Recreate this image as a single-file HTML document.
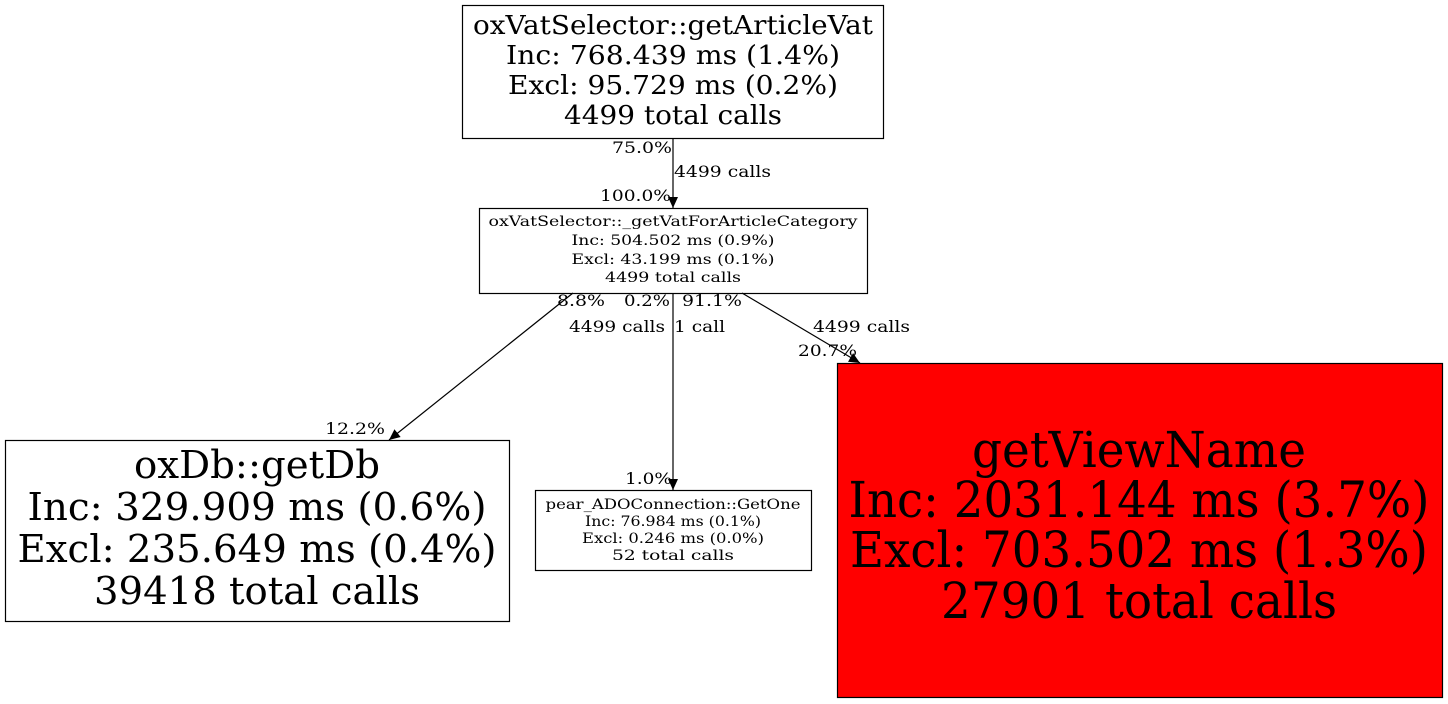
<!DOCTYPE html>
<html><head><meta charset="utf-8"><style>
html,body{margin:0;padding:0;background:#fff;}
svg{display:block;}
text{font-family:"DejaVu Serif","Liberation Serif",serif;fill:#000;}
</style></head><body>
<svg width="1448" height="704" viewBox="0 0 1448 704" xmlns="http://www.w3.org/2000/svg">
<defs><marker id="a" markerWidth="12" markerHeight="12" refX="11" refY="5.5" orient="auto" markerUnits="userSpaceOnUse"><path d="M0,0.5 L11,5.5 L0,10.5 Z" fill="#000"/></marker></defs>
<g stroke="#000" stroke-width="1.2" fill="none">
<rect x="462.5" y="5.5" width="421" height="133" fill="#fff"/>
<rect x="479.5" y="208.5" width="388" height="85" fill="#fff"/>
<rect x="5.5" y="440.5" width="504" height="181" fill="#fff"/>
<rect x="535.5" y="490.5" width="276" height="80" fill="#fff"/>
<rect x="837.5" y="363.5" width="605" height="334" fill="#f00"/>
<line x1="673" y1="138" x2="673" y2="208" marker-end="url(#a)"/>
<line x1="573" y1="293" x2="389" y2="440" marker-end="url(#a)"/>
<line x1="673" y1="293" x2="673" y2="490" marker-end="url(#a)"/>
<line x1="742" y1="293" x2="860" y2="363" marker-end="url(#a)"/>
</g>
<g text-anchor="middle" font-size="26">
<text x="673" y="34" textLength="400" lengthAdjust="spacingAndGlyphs">oxVatSelector::getArticleVat</text>
<text x="673" y="64" textLength="334" lengthAdjust="spacingAndGlyphs">Inc: 768.439 ms (1.4%)</text>
<text x="673" y="94" textLength="330" lengthAdjust="spacingAndGlyphs">Excl: 95.729 ms (0.2%)</text>
<text x="673" y="124" textLength="218" lengthAdjust="spacingAndGlyphs">4499 total calls</text>
</g>
<g text-anchor="middle" font-size="14">
<text x="673" y="226" textLength="369" lengthAdjust="spacingAndGlyphs">oxVatSelector::_getVatForArticleCategory</text>
<text x="673" y="245" textLength="203" lengthAdjust="spacingAndGlyphs">Inc: 504.502 ms (0.9%)</text>
<text x="673" y="264" textLength="203" lengthAdjust="spacingAndGlyphs">Excl: 43.199 ms (0.1%)</text>
<text x="673" y="282" textLength="136" lengthAdjust="spacingAndGlyphs">4499 total calls</text>
</g>
<g text-anchor="middle" font-size="38">
<text x="257" y="478" textLength="246" lengthAdjust="spacingAndGlyphs">oxDb::getDb</text>
<text x="257" y="520" textLength="459" lengthAdjust="spacingAndGlyphs">Inc: 329.909 ms (0.6%)</text>
<text x="257" y="562" textLength="479" lengthAdjust="spacingAndGlyphs">Excl: 235.649 ms (0.4%)</text>
<text x="257" y="604" textLength="326" lengthAdjust="spacingAndGlyphs">39418 total calls</text>
</g>
<g text-anchor="middle" font-size="14">
<text x="673" y="509" textLength="255" lengthAdjust="spacingAndGlyphs">pear_ADOConnection::GetOne</text>
<text x="673" y="526" textLength="176" lengthAdjust="spacingAndGlyphs">Inc: 76.984 ms (0.1%)</text>
<text x="673" y="543" textLength="182" lengthAdjust="spacingAndGlyphs">Excl: 0.246 ms (0.0%)</text>
<text x="673" y="560" textLength="122" lengthAdjust="spacingAndGlyphs">52 total calls</text>
</g>
<g text-anchor="middle" font-size="50">
<text x="1139" y="467" textLength="334" lengthAdjust="spacingAndGlyphs">getViewName</text>
<text x="1139" y="517" textLength="581" lengthAdjust="spacingAndGlyphs">Inc: 2031.144 ms (3.7%)</text>
<text x="1139" y="567" textLength="578" lengthAdjust="spacingAndGlyphs">Excl: 703.502 ms (1.3%)</text>
<text x="1139" y="618" textLength="396" lengthAdjust="spacingAndGlyphs">27901 total calls</text>
</g>
<g font-size="16">
<text x="612" y="153" textLength="60" lengthAdjust="spacingAndGlyphs">75.0%</text>
<text x="674" y="177" textLength="97" lengthAdjust="spacingAndGlyphs">4499 calls</text>
<text x="600" y="201" textLength="71" lengthAdjust="spacingAndGlyphs">100.0%</text>
<text x="557" y="306" textLength="48" lengthAdjust="spacingAndGlyphs">8.8%</text>
<text x="624" y="306" textLength="46" lengthAdjust="spacingAndGlyphs">0.2%</text>
<text x="682" y="306" textLength="60" lengthAdjust="spacingAndGlyphs">91.1%</text>
<text x="569" y="332" textLength="96" lengthAdjust="spacingAndGlyphs">4499 calls</text>
<text x="674" y="332" textLength="51" lengthAdjust="spacingAndGlyphs">1 call</text>
<text x="813" y="332" textLength="97" lengthAdjust="spacingAndGlyphs">4499 calls</text>
<text x="798" y="356" textLength="59" lengthAdjust="spacingAndGlyphs">20.7%</text>
<text x="325" y="434" textLength="60" lengthAdjust="spacingAndGlyphs">12.2%</text>
<text x="625" y="484" textLength="47" lengthAdjust="spacingAndGlyphs">1.0%</text>
</g>
</svg>
</body></html>
